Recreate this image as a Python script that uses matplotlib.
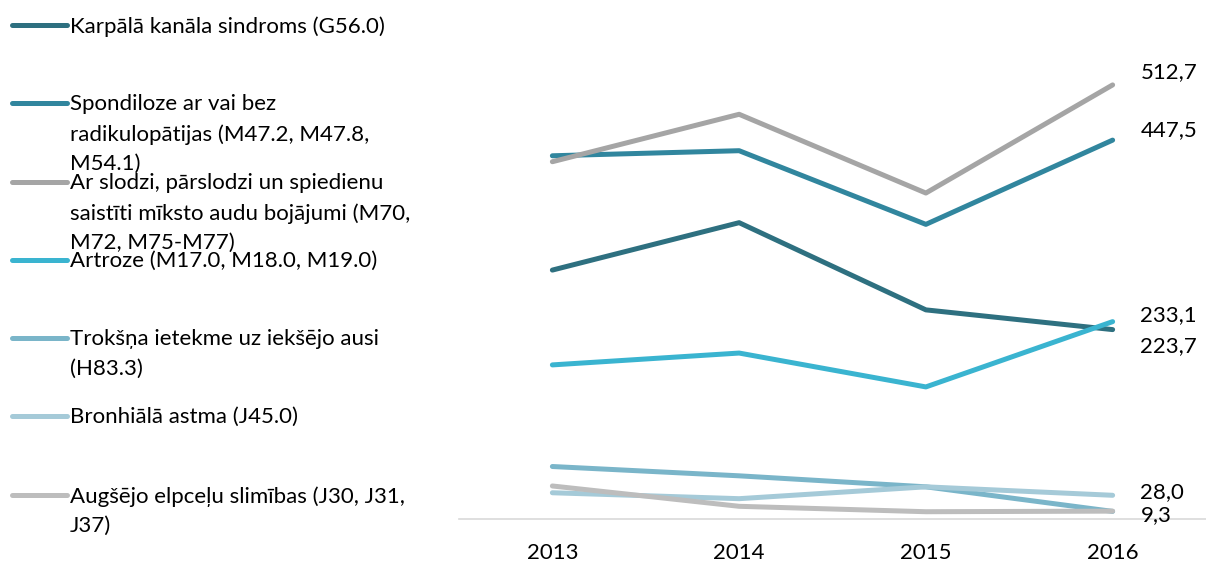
import matplotlib
matplotlib.use("Agg")
import matplotlib.pyplot as plt
from matplotlib.lines import Line2D

plt.rcParams["font.family"] = ["Lato", "DejaVu Sans"]

years = ["2013", "2014", "2015", "2016"]
names = [
    "Karpālā kanāla sindroms (G56.0)",
    "Spondiloze ar vai bez\nradikulopātijas (M47.2, M47.8,\nM54.1)",
    "Ar slodzi, pārslodzi un spiedienu\nsaistīti mīksto audu bojājumi (M70,\nM72, M75-M77)",
    "Artroze (M17.0, M18.0, M19.0)",
    "Trokšņa ietekme uz iekšējo ausi\n(H83.3)",
    "Bronhiālā astma (J45.0)",
    "Augšējo elpceļu slimības (J30, J31,\nJ37)",
]
karpala = [294, 350, 247, 223.7]
spondiloze = [429, 435, 348, 447.5]
slodze = [422, 478, 385, 512.7]
artroze = [182, 196, 156, 233.1]
troksnis = [62, 51, 38, 9.0]
astma = [31, 24, 38, 28.0]
elpceli = [39, 15, 8.6, 9.3]
series = [karpala, spondiloze, slodze, artroze, troksnis, astma, elpceli]
colors = ["#2e7080", "#31869e", "#a5a5a5", "#3ab4d0", "#7ab5c9", "#a5cad8", "#bdbdbd"]

# end labels: (text, series index, vertical offset in points)
end_labels = [("512,7", 2, 9), ("447,5", 1, 7), ("233,1", 3, 5), ("223,7", 0, -12),
              ("28,0", 5, 2), ("9,3", 6, -3)]

W, H = 1206, 562
fig = plt.figure(figsize=(W / 100, H / 100), dpi=100)
ax = fig.add_axes([459 / W, 1 - 519 / H, 1 - 459 / W, (519 - 11) / H])

x = list(range(len(years)))
for vals, c in zip(series, colors):
    ax.plot(x, vals, color=c, lw=3.6, solid_capstyle="round", solid_joinstyle="round")

for txt, i, dy in end_labels:
    ax.annotate(txt, (3, series[i][3]), xytext=(20, dy), textcoords="offset points",
                ha="left", va="center", fontsize=16, color="#000000")

ax.set_xlim(-0.5, 3.5)
ax.set_ylim(0, 600)
ax.set_xticks(x)
ax.set_xticklabels(years, fontsize=16)
ax.tick_params(axis="x", length=0, pad=17)
ax.set_yticks([])
for s in ["top", "right", "left"]:
    ax.spines[s].set_visible(False)
ax.spines["bottom"].set_color("#d9d9d9")
ax.spines["bottom"].set_linewidth(1.2)
ax.patch.set_alpha(0)

# hand-placed legend on the left
legend_y = [25, 103, 182, 260, 338, 416, 495]
for name, c, ly in zip(names, colors, legend_y):
    fig.add_artist(Line2D([12 / W, 67 / W], [1 - ly / H, 1 - ly / H], color=c, lw=3.6,
                          solid_capstyle="round", transform=fig.transFigure))
    fig.text(70 / W, 1 - (ly - 9) / H, name, ha="left", va="top", fontsize=16,
             linespacing=1.6, color="#000000")

fig.savefig("out.png", dpi=100)
